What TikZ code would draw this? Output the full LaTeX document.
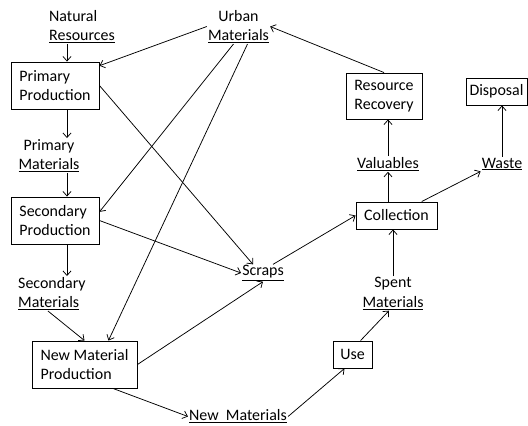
\documentclass[tikz,border=0pt]{standalone}
\usepackage{fontspec}
\setmainfont{Carlito}
\usetikzlibrary{arrows.meta}
\begin{document}
\begin{tikzpicture}[x=1bp,y=-1bp,
  font=\fontsize{16}{19.5}\selectfont,
  box/.style={draw=black,line width=0.9bp,inner sep=3bp,minimum height=27bp},
  prod/.style={box,align=left,minimum width=88bp,minimum height=47bp},
  lbl/.style={inner sep=1bp,align=center},
  arr/.style={-{Straight Barb[length=4.5bp,width=8bp]},line width=0.75bp}
]
\useasboundingbox (0,0) rectangle (528,425);
% production chain
\node[prod] (pp) at (55,85.5) {Primary\\Production};
\node[prod] (sp) at (55,220.5) {Secondary\\Production};
\node[prod,minimum width=105bp] (nmp) at (84.5,364.5) {New Material\\Production};
% recovery side
\node[box,align=center,minimum width=76bp,minimum height=46bp] (rr) at (384,96) {Resource\\Recovery};
\node[box,minimum width=61bp,inner sep=1bp] (dis) at (496.5,91.5) {Disposal};
\node[box,minimum width=81bp] (col) at (396.5,215.5) {Collection};
\node[box,minimum width=39bp] (use) at (352.5,354.5) {Use};
% material labels
\node[lbl,align=left,anchor=west] (nat) at (48,26.5) {Natural\\\underline{Resources}};
\node[lbl] (urb) at (238.5,26.5) {Urban\\\underline{Materials}};
\node[lbl] (pm) at (49,155.5) {Primary\\\underline{Materials}};
\node[lbl,align=left,anchor=west] (sm) at (17,293.5) {Secondary\\\underline{Materials}};
\node[lbl] (scr) at (263,273) {\underline{Scraps}};
\node[lbl] (nm) at (238,416.5) {\underline{New~~Materials}};
\node[lbl] (spm) at (393,293.5) {Spent\\\underline{Materials}};
\node[lbl] (val) at (388,164) {\underline{Valuables}};
\node[lbl] (wst) at (502,164) {\underline{Waste}};
\coordinate (trunk) at ([xshift=12bp]pp.north);
% flows
\draw[arr] (trunk |- nat.south) -- (trunk);
\draw[arr] (urb.west) -- (pp.24);
\draw[arr] ([xshift=-5bp]urb.south) -- (sp.11);
\draw[arr] ([xshift=9bp]urb.south) -- (nmp.45);
\draw[arr] (pp.east) -- ([xshift=-10bp]scr.north);
\draw[arr] (trunk |- pp.south) -- (trunk |- pm.north);
\draw[arr] (trunk |- pm.south) -- (trunk |- sp.north);
\draw[arr] (sp.east) -- (scr.west);
\draw[arr] (trunk |- sp.south) -- (trunk |- sm.north);
\draw[arr] ([xshift=-4bp]sm.south) -- (nmp.north);
\draw[arr] (nmp.east) -- (scr.south);
\draw[arr] ([xshift=28.5bp]nmp.south) -- (nm.west);
\draw[arr] (nm.east) -- ([xshift=-8bp]use.south);
\draw[arr] (use.60) -- ([xshift=-4bp]spm.south);
\draw[arr] (spm.north) -- (spm.north |- col.south);
\draw[arr] ([xshift=10bp]scr.north) -- (col.west);
\draw[arr] (val.south |- col.north) -- (val.south);
\draw[arr] (col.29) -- (wst.south west);
\draw[arr] (val.north) -- (val.north |- rr.south);
\draw[arr] (wst.north) -- (wst.north |- dis.south);
\draw[arr] (rr.north) -- (urb.east);
\end{tikzpicture}
\end{document}
